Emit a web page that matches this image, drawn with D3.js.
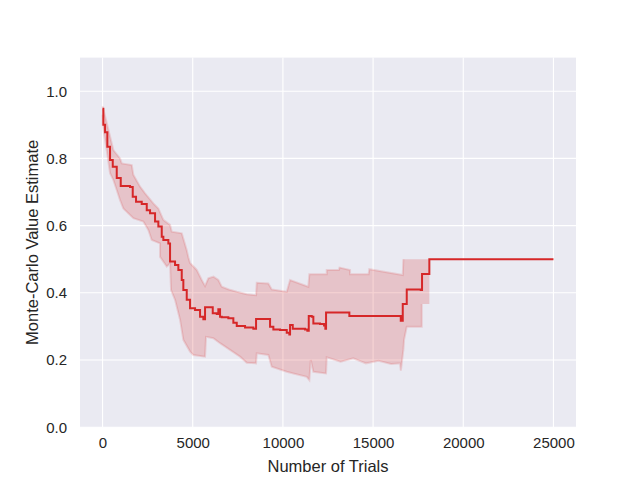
<!DOCTYPE html>
<html>
<head>
<meta charset="utf-8">
<script src="https://cdnjs.cloudflare.com/ajax/libs/d3/7.8.5/d3.min.js"></script>
<style>
  body { margin: 0; background: #ffffff; }
  text { font-family: "Liberation Sans", Arial, sans-serif; fill: #262626; }
</style>
</head>
<body>
<div id="chart"></div>
<script>
// mean estimate (step corners)
var meanTrials = [0, 44, 139, 266, 416, 566, 787, 1009, 1525, 1674, 1857, 2173, 2451, 2634, 2911, 3094,
    3282, 3371, 3648, 3743, 4020, 4203, 4391, 4480, 4668, 4851, 5129, 5406, 5589, 5683, 6054, 6110,
    6332, 6420, 6515, 6609, 6975, 7252, 7441, 7901, 8361, 8511, 9193, 9287, 9470, 9842, 10213, 10357,
    10396, 10546, 11228, 11355, 11433, 11599, 11688, 12059, 12281, 12353, 12392, 13628, 13684, 16456,
    16534, 16645, 16645, 16828, 16866, 17643, 17714, 18119, 18119, 25000];
var meanValues = [0.948, 0.90, 0.878, 0.835, 0.795, 0.775, 0.742, 0.718, 0.715, 0.686, 0.671, 0.664, 0.646, 0.637, 0.612, 0.597,
    0.567, 0.557, 0.547, 0.493, 0.483, 0.468, 0.438, 0.408, 0.379, 0.354, 0.349, 0.329, 0.321, 0.357, 0.357, 0.339,
    0.337, 0.351, 0.329, 0.327, 0.324, 0.311, 0.301, 0.297, 0.293, 0.322, 0.322, 0.299, 0.291, 0.289, 0.281, 0.276,
    0.304, 0.293, 0.291, 0.287, 0.331, 0.329, 0.309, 0.307, 0.303, 0.293, 0.341, 0.341, 0.331, 0.331,
    0.317, 0.317, 0.367, 0.367, 0.410, 0.408, 0.456, 0.456, 0.50, 0.50];

// upper edge of the confidence band
var upperTrials = [0, 44, 194, 416, 599, 970, 1065, 1619, 1708, 2079, 2356, 2817, 3094, 3371, 3743, 3837,
    4391, 4540, 4668, 4760, 4851, 5223, 5500, 5683, 5866, 6150, 6420, 6609, 7000, 7441, 7995, 8511, 8550, 9193, 9381, 10213,
    10396, 11410, 11466, 12431, 12431, 13100, 13140, 13723, 13723, 14750, 14790, 16645, 16678, 18119, 25000];
var upperValues = [0.955, 0.946, 0.914, 0.865, 0.825, 0.800, 0.785, 0.780, 0.751, 0.716, 0.696, 0.666, 0.651, 0.617, 0.602, 0.582,
    0.577, 0.55, 0.527, 0.505, 0.489, 0.468, 0.438, 0.420, 0.443, 0.448, 0.438, 0.418, 0.41, 0.403, 0.396, 0.393, 0.430, 0.428, 0.410, 0.403,
    0.438, 0.418, 0.455, 0.455, 0.468, 0.468, 0.475, 0.468, 0.455, 0.455, 0.47, 0.453, 0.50, 0.50, 0.50];

// lower edge of the confidence band
var lowerTrials = [0, 10, 233, 416, 599, 787, 970, 1153, 1708, 2262, 2539, 2728, 3188, 3188, 3560, 3743,
    3798, 4020, 4297, 4480, 4851, 5034, 5683, 5738, 6143, 6515, 7069, 7624, 7995, 8511, 8550, 9193,
    9381, 10213, 10579, 11322, 11466, 11544, 11688, 12392, 12431, 13200, 13900, 14600, 15300, 16000, 16495, 16540, 16678, 16717, 16866,
    17698, 17698, 18119, 18119, 25000];
var lowerValues = [0.93, 0.90, 0.824, 0.756, 0.736, 0.706, 0.676, 0.651, 0.622, 0.612, 0.587, 0.557, 0.547, 0.507, 0.478, 0.487,
    0.408, 0.379, 0.320, 0.260, 0.225, 0.215, 0.210, 0.269, 0.265, 0.250, 0.230, 0.210, 0.192, 0.190, 0.220, 0.215,
    0.180, 0.165, 0.160, 0.150, 0.140, 0.200, 0.165, 0.160, 0.208, 0.195, 0.205, 0.190, 0.198, 0.188, 0.190, 0.168, 0.230, 0.260, 0.299,
    0.299, 0.367, 0.367, 0.50, 0.50];

var xTicks = [0, 5000, 10000, 15000, 20000, 25000];
var yTicks = [0.0, 0.2, 0.4, 0.6, 0.8, 1.0];

var x_label = "Number of Trials";
var y_label = "Monte-Carlo Value Estimate";

var margin = { left: 80, right: 64, top: 57.6, bottom: 52.8 };
var width = 640 - margin.left - margin.right;
var height = 480 - margin.top - margin.bottom;

var svg = d3.select("#chart").append("svg").attr("width", 640).attr("height", 480);

// setup x, and y scales (matplotlib pads the x range by 5%)
var x_scale = d3.scaleLinear().domain([-1250, 26250]).range([0, width]);
var y_scale = d3.scaleLinear().domain([0, 1.1]).range([height, 0]);

var chart = svg.append("g").attr("transform", "translate(" + margin.left + "," + margin.top + ")");

// darkgrid background
chart.append("rect")
    .attr("width", width)
    .attr("height", height)
    .style("fill", "#eaeaf2");

// grid lines
chart.selectAll(".xgrid")
    .data(xTicks)
    .enter()
    .append("line")
    .attr("x1", function (d) { return x_scale(d); })
    .attr("x2", function (d) { return x_scale(d); })
    .attr("y1", 0)
    .attr("y2", height)
    .style("stroke", "#ffffff")
    .style("stroke-width", 1.1);
chart.selectAll(".ygrid")
    .data(yTicks)
    .enter()
    .append("line")
    .attr("x1", 0)
    .attr("x2", width)
    .attr("y1", function (d) { return y_scale(d); })
    .attr("y2", function (d) { return y_scale(d); })
    .style("stroke", "#ffffff")
    .style("stroke-width", 1.1);

// confidence band: upper edge forward, lower edge back
var upperPts = upperTrials.map(function (t, i) { return [t, upperValues[i]]; });
var lowerPts = lowerTrials.map(function (t, i) { return [t, lowerValues[i]]; }).reverse();
var bandLine = d3.line()
    .x(function (d) { return x_scale(d[0]); })
    .y(function (d) { return y_scale(d[1]); });
var stepLine = d3.line()
    .x(function (d) { return x_scale(d[0]); })
    .y(function (d) { return y_scale(d[1]); })
    .curve(d3.curveStepAfter);

chart.append("path")
    .attr("d", bandLine(upperPts.concat(lowerPts)) + "Z")
    .style("fill", "#d62728")
    .style("fill-opacity", 0.2)
    .style("stroke", "none");

// slightly darker noisy edges of the band
chart.append("path")
    .attr("d", bandLine(upperPts.filter(function (d) { return d[0] < 18119; })))
    .style("fill", "none")
    .style("stroke", "#d62728")
    .style("stroke-opacity", 0.15)
    .style("stroke-width", 2);
chart.append("path")
    .attr("d", bandLine(lowerPts.filter(function (d) { return d[0] < 18119; })))
    .style("fill", "none")
    .style("stroke", "#d62728")
    .style("stroke-opacity", 0.15)
    .style("stroke-width", 2);

// mean line
var meanPts = meanTrials.map(function (t, i) { return [t, meanValues[i]]; });
chart.append("path")
    .attr("d", stepLine(meanPts))
    .style("fill", "none")
    .style("stroke", "#d62728")
    .style("stroke-width", 2);

// create x, y axis
var x_axis = d3.axisBottom(x_scale).tickValues(xTicks).tickSize(0).tickPadding(10).tickFormat(d3.format("d"));
var y_axis = d3.axisLeft(y_scale).tickValues(yTicks).tickSize(0).tickPadding(13).tickFormat(d3.format(".1f"));

var gx = chart.append("g").attr("transform", "translate(0," + height + ")").call(x_axis);
var gy = chart.append("g").call(y_axis);
[gx, gy].forEach(function (g) {
    g.select(".domain").remove();
    g.selectAll("text").style("font-size", "15px").style("font-family", "Liberation Sans, Arial, sans-serif").style("fill", "#262626");
});

// add labels to axes on chart
svg.append("text")
    .attr("text-anchor", "middle")
    .attr("x", margin.left + width / 2)
    .attr("y", 472)
    .style("font-size", "16.5px")
    .text(x_label);
svg.append("text")
    .attr("text-anchor", "middle")
    .attr("transform", "translate(38," + (margin.top + height / 2) + ") rotate(-90)")
    .style("font-size", "16.5px")
    .text(y_label);
</script>
</body>
</html>
